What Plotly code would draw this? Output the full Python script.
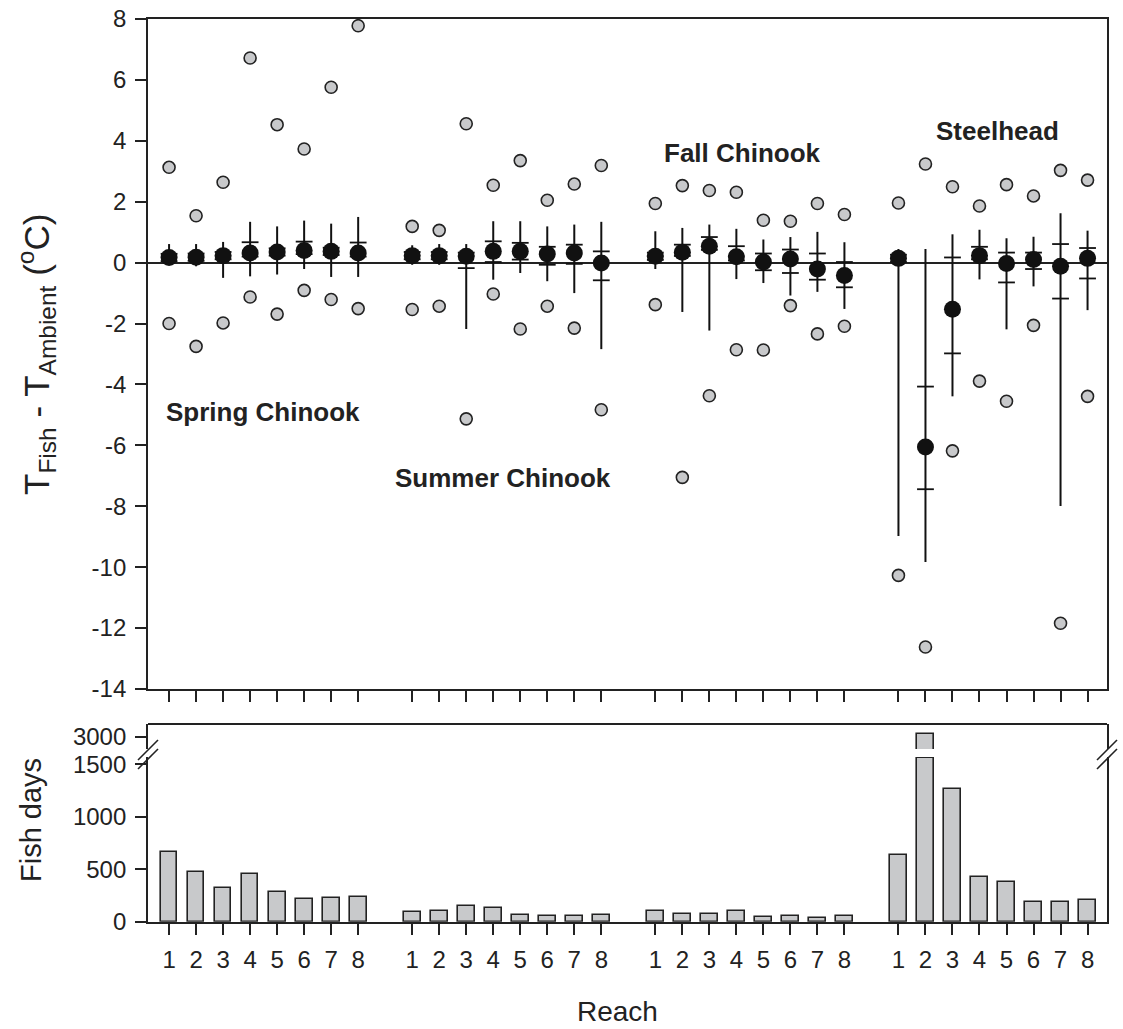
import plotly.graph_objects as go

# ---------------- data ----------------
groups = ["Spring Chinook", "Summer Chinook", "Fall Chinook", "Steelhead"]
reaches = [1, 2, 3, 4, 5, 6, 7, 8]

mean_spring = [0.17, 0.18, 0.23, 0.32, 0.35, 0.40, 0.37, 0.32]
max_spring = [3.13, 1.54, 2.64, 6.72, 4.53, 3.73, 5.76, 7.78]
min_spring = [-2.00, -2.75, -1.98, -1.13, -1.69, -0.91, -1.21, -1.51]
p90_spring = [0.61, 0.61, 0.68, 1.34, 1.19, 1.38, 1.28, 1.50]
p10_spring = [0.00, -0.12, -0.50, -0.45, -0.39, -0.21, -0.47, -0.47]
p75_spring = [0.29, 0.30, 0.35, 0.67, 0.47, 0.69, 0.49, 0.66]
p25_spring = [0.05, 0.06, 0.11, 0.20, 0.23, 0.28, 0.25, 0.20]

mean_summer = [0.23, 0.23, 0.21, 0.37, 0.37, 0.28, 0.32, -0.01]
max_summer = [1.19, 1.06, 4.56, 2.54, 3.35, 2.05, 2.58, 3.19]
min_summer = [-1.54, -1.43, -5.13, -1.03, -2.18, -1.43, -2.15, -4.83]
p90_summer = [0.57, 0.61, 0.61, 1.36, 1.36, 1.19, 1.25, 1.34]
p10_summer = [-0.07, -0.07, -2.18, -0.56, -0.34, -0.61, -1.00, -2.84]
p75_summer = [0.35, 0.35, 0.33, 0.70, 0.65, 0.52, 0.59, 0.37]
p25_summer = [0.11, 0.11, -0.18, 0.02, 0.10, -0.07, -0.04, -0.58]

mean_fall = [0.21, 0.34, 0.54, 0.19, 0.02, 0.12, -0.21, -0.42]
max_fall = [1.94, 2.53, 2.37, 2.31, 1.39, 1.36, 1.94, 1.58]
min_fall = [-1.38, -7.05, -4.37, -2.86, -2.87, -1.41, -2.34, -2.09]
p90_fall = [1.03, 1.14, 1.25, 1.11, 0.76, 0.84, 1.01, 0.67]
p10_fall = [-0.21, -1.62, -2.23, -0.54, -0.67, -1.08, -0.96, -1.52]
p75_fall = [0.33, 0.59, 0.84, 0.54, 0.30, 0.43, 0.30, 0.02]
p25_fall = [0.09, 0.22, 0.42, 0.07, -0.25, -0.34, -0.56, -0.81]

mean_steel = [0.14, -6.05, -1.53, 0.23, -0.03, 0.10, -0.12, 0.14]
max_steel = [1.96, 3.24, 2.49, 1.86, 2.56, 2.19, 3.03, 2.71]
min_steel = [-10.27, -12.62, -6.18, -3.89, -4.55, -2.06, -11.84, -4.39]
p90_steel = [0.45, 0.45, 0.93, 1.08, 0.80, 0.85, 1.62, 1.05]
p10_steel = [-8.98, -9.83, -4.39, -0.55, -2.19, -0.78, -7.99, -1.56]
p75_steel = [0.26, -4.07, 0.17, 0.52, 0.33, 0.33, 0.61, 0.48]
p25_steel = [0.02, -7.44, -2.98, 0.11, -0.65, -0.21, -1.18, -0.52]

days_spring = [661, 471, 324, 457, 283, 216, 226, 238]
days_summer = [89, 102, 150, 131, 61, 51, 54, 67]
days_fall = [102, 76, 70, 99, 48, 57, 35, 57]
days_steel = [636, 3025, 1265, 429, 381, 185, 185, 207]

y_ticks_top = [-14, -12, -10, -8, -6, -4, -2, 0, 2, 4, 6, 8]
y_ticks_low = [0, 500, 1000, 1500]
y_ticks_up = [3000]

# ---------------- assemble ----------------
means = mean_spring + mean_summer + mean_fall + mean_steel
maxs = max_spring + max_summer + max_fall + max_steel
mins = min_spring + min_summer + min_fall + min_steel
p90 = p90_spring + p90_summer + p90_fall + p90_steel
p10 = p10_spring + p10_summer + p10_fall + p10_steel
p75 = p75_spring + p75_summer + p75_fall + p75_steel
p25 = p25_spring + p25_summer + p25_fall + p25_steel
days = days_spring + days_summer + days_fall + days_steel

GAP = 9
xpos = [g * GAP + r for g in range(len(groups)) for r in reaches]
xlabels = [str(r) for g in range(len(groups)) for r in reaches]

LOWER_TOP = 1557     # axis break (lower segment upper limit)
LOWER_RANGE = [0, 1570]
UPPER_RANGE = [2880, 3120]

INK = "#222222"
GREY = "#c8c9cb"
FONT = "Liberation Sans, Arial, sans-serif"

W, H = 1123, 1029
def px(x):
    return x / W
def py(y):
    return 1 - y / H

fig = go.Figure()

# quartile ticks (under the mean dots)
fig.add_trace(go.Scatter(
    x=xpos + xpos, y=p75 + p25, mode="markers", xaxis="x", yaxis="y",
    marker=dict(symbol="line-ew", size=12, line=dict(width=1.8, color="#111111")),
    showlegend=False, hoverinfo="skip"))
# whiskers + means
fig.add_trace(go.Scatter(
    x=xpos, y=means, mode="markers", xaxis="x", yaxis="y",
    marker=dict(size=17, color="#111111", line=dict(width=0)),
    error_y=dict(type="data", symmetric=False,
                 array=[h - m for h, m in zip(p90, means)],
                 arrayminus=[m - l for m, l in zip(means, p10)],
                 width=0, thickness=2, color="#111111"),
    showlegend=False, hoverinfo="skip"))
# min / max
fig.add_trace(go.Scatter(
    x=xpos + xpos, y=maxs + mins, mode="markers", xaxis="x", yaxis="y",
    marker=dict(size=12, color=GREY, line=dict(width=1.6, color=INK)),
    showlegend=False, hoverinfo="skip"))

# bars lower segment
fig.add_trace(go.Bar(
    x=xpos, y=[min(d, LOWER_TOP) for d in days], xaxis="x2", yaxis="y2",
    width=0.62, marker=dict(color=GREY, line=dict(width=1.6, color=INK)),
    showlegend=False, hoverinfo="skip"))
# bars upper segment
fig.add_trace(go.Bar(
    x=xpos, y=days, xaxis="x2", yaxis="y3",
    width=0.62, marker=dict(color=GREY, line=dict(width=1.6, color=INK)),
    showlegend=False, hoverinfo="skip"))

xdom = [px(148), px(1107)]
xr = [0.22, 35.72]
axfont = dict(family=FONT, size=24, color=INK)
common = dict(automargin=False, showgrid=False, tickcolor=INK, tickwidth=1.8, ticklen=11,
              ticks="outside", showline=True, linewidth=1.8, linecolor=INK)

fig.update_layout(
    width=W, height=H, margin=dict(l=0, r=0, t=0, b=0, autoexpand=False),
    paper_bgcolor="white", plot_bgcolor="white",
    font=dict(family=FONT, color=INK),
    bargap=0,
    xaxis=dict(domain=xdom, range=xr, anchor="y", tickvals=xpos, showticklabels=False,
               mirror=True, zeroline=False, **common),
    yaxis=dict(domain=[py(689), py(19)], range=[-14, 8], anchor="x",
               tickvals=y_ticks_top, ticktext=[str(v) for v in y_ticks_top],
               tickfont=axfont, mirror=True, ticklabelstandoff=4,
               zeroline=True, zerolinecolor=INK, zerolinewidth=1.8, **common),
    xaxis2=dict(domain=xdom, range=xr, anchor="y2", tickvals=xpos, ticktext=xlabels,
                tickfont=axfont, ticklabelstandoff=5, zeroline=False, **common),
    yaxis2=dict(domain=[py(921.7), py(757)], range=LOWER_RANGE, anchor="x2",
                tickvals=y_ticks_low, ticktext=[str(v) for v in y_ticks_low],
                tickfont=axfont, mirror=True, ticklabelstandoff=4, zeroline=False, **common),
    yaxis3=dict(domain=[py(749), py(724)], range=UPPER_RANGE, anchor="x2",
                tickvals=y_ticks_up, ticktext=[str(v) for v in y_ticks_up],
                tickfont=axfont, mirror=True, ticklabelstandoff=4, zeroline=False, **common),
)

shapes = []
# top border of lower panel
shapes.append(dict(type="line", xref="paper", yref="paper", x0=px(148), x1=px(1107),
                   y0=py(724), y1=py(724), line=dict(color=INK, width=1.8)))
# axis break marks
for xc in (148, 1107):
    for yc in (750, 759):
        shapes.append(dict(type="line", xref="paper", yref="paper",
                           x0=px(xc - 10), x1=px(xc + 10), y0=py(yc + 10), y1=py(yc - 10),
                           line=dict(color=INK, width=1.6)))
fig.update_layout(shapes=shapes)

label_pos = [(4.48, -4.9), (13.37, -7.06), (22.22, 3.61), (31.67, 4.33)]
ann = []
for name, (lx, ly) in zip(groups, label_pos):
    ann.append(dict(x=lx, y=ly, xref="x", yref="y", text="<b>%s</b>" % name, showarrow=False,
                    xanchor="center", yanchor="middle",
                    font=dict(family=FONT, size=26, color=INK)))
ann.append(dict(x=px(36), y=py(355), xref="paper", yref="paper", textangle=-90, showarrow=False,
                xanchor="center", yanchor="middle",
                text="T<sub>Fish</sub> - T<sub>Ambient</sub> (<sup>o</sup>C)",
                font=dict(family=FONT, size=35, color=INK)))
ann.append(dict(x=px(31), y=py(820), xref="paper", yref="paper", textangle=-90, showarrow=False,
                xanchor="center", yanchor="middle",
                text="Fish days", font=dict(family=FONT, size=29, color=INK)))
ann.append(dict(x=px(617), y=py(1011), xref="paper", yref="paper", showarrow=False,
                xanchor="center", yanchor="middle",
                text="Reach", font=dict(family=FONT, size=28, color=INK)))
fig.update_layout(annotations=ann)

fig.write_html("out.html")
